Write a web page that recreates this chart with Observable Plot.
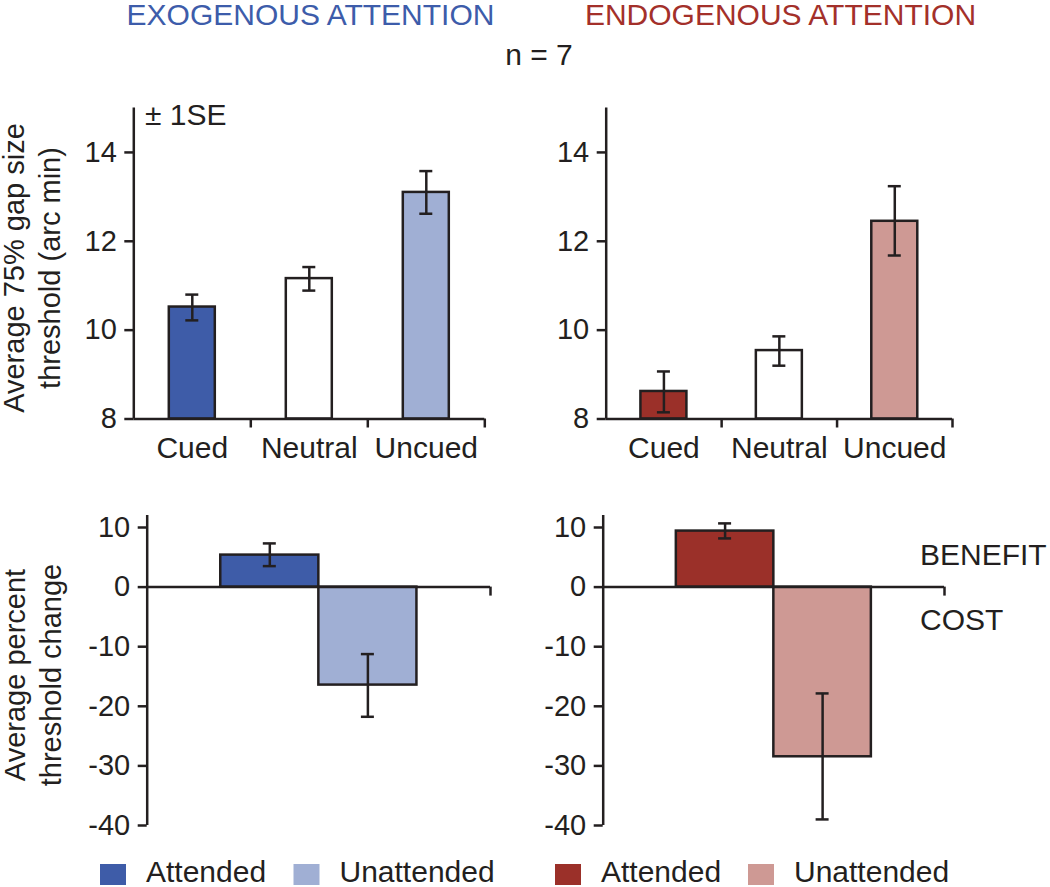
<!DOCTYPE html>
<html><head><meta charset="utf-8">
<script src="https://cdn.jsdelivr.net/npm/d3@7"></script>
<script src="https://cdn.jsdelivr.net/npm/@observablehq/plot@0.6"></script>
<style>
html,body{margin:0;padding:0;background:#fff;overflow:hidden}
#fig{position:relative;width:1050px;height:887px;font-family:"Liberation Sans",Arial,Helvetica,sans-serif;color:#231f20}
#fig svg{position:absolute;left:0;top:0}
</style></head><body><div id="fig"></div>
<script>
// ---------- data ----------
const cueConditions = ["Cued", "Neutral", "Uncued"];
const exoThreshold   = [10.52, 11.16, 13.10];
const exoThresholdLo = [10.22, 10.89, 12.62];
const exoThresholdHi = [10.80, 11.42, 13.58];
const endoThreshold   = [8.62, 9.54, 12.45];
const endoThresholdLo = [8.15, 9.20, 11.68];
const endoThresholdHi = [9.07, 9.86, 13.24];

const changeConditions = ["Attended", "Unattended"];
const exoChange   = [5.37, -16.44];
const exoChangeLo = [3.52, -21.76];
const exoChangeHi = [7.33, -11.24];
const endoChange   = [9.40, -28.47];
const endoChangeLo = [8.17, -38.98];
const endoChangeHi = [10.69, -17.84];

const thresholdDomain = [8, 15];
const thresholdTicks = [8, 10, 12, 14];
const changeDomain = [-40, 12];
const changeTicks = [10, 0, -10, -20, -30, -40];

const exoColors  = ["#3e5ca8", "#ffffff", "#a0afd4"];
const endoColors = ["#9b3029", "#ffffff", "#ce9994"];
const exoChangeColors  = ["#3e5ca8", "#a0afd4"];
const endoChangeColors = ["#9b3029", "#ce9994"];

const panelTitles = ["EXOGENOUS ATTENTION", "ENDOGENOUS ATTENTION"];
const titleColors = ["#3d5caa", "#a3302a"];
const legendLabels = ["Attended", "Unattended", "Attended", "Unattended"];
const legendColors = ["#3e5ca8", "#a0afd4", "#9b3029", "#ce9994"];

// ---------- layout ----------
const W = 1050, H = 887, INK = "#231f20", SW = 2.5;
const FONT = '"Liberation Sans", Arial, Helvetica, sans-serif';
const baseStyle = {background: "transparent", overflow: "visible", fontFamily: FONT, fontSize: "30px", color: INK};
const fig = document.getElementById("fig");

function topPanel(vals, lo, hi, fills, left, right) {
  const data = cueConditions.map((c, i) => ({c, i, v: vals[i], lo: lo[i], hi: hi[i], fill: fills[i]}));
  const n = data.length;
  const band = (right - left) / n;
  const inset = (band - 46) / 2;
  const y0 = thresholdDomain[0];
  return Plot.plot({
    width: W, height: H,
    marginLeft: left, marginRight: W - right, marginTop: 107.5, marginBottom: H - 418.5,
    x: {domain: [0, n]},
    y: {domain: thresholdDomain},
    color: {type: "identity"},
    style: baseStyle,
    marks: [
      Plot.rectY(data, {x1: d => d.i, x2: d => d.i + 1, y1: y0, y2: "v", fill: "fill", stroke: INK, strokeWidth: SW, insetLeft: inset, insetRight: inset}),
      Plot.ruleX(data, {x: d => d.i + 0.5, y1: "lo", y2: "hi", stroke: INK, strokeWidth: SW}),
      Plot.ruleY(data, {y: "lo", x1: d => d.i + 0.5, x2: d => d.i + 0.5, insetLeft: -6.5, insetRight: -6.5, stroke: INK, strokeWidth: SW}),
      Plot.ruleY(data, {y: "hi", x1: d => d.i + 0.5, x2: d => d.i + 0.5, insetLeft: -6.5, insetRight: -6.5, stroke: INK, strokeWidth: SW}),
      Plot.ruleX([0], {stroke: INK, strokeWidth: SW}),
      Plot.ruleY([y0], {stroke: INK, strokeWidth: SW}),
      Plot.ruleX(d3.range(1, n + 1), {y1: y0, y2: y0, insetBottom: -9, stroke: INK, strokeWidth: SW}),
      Plot.axisY({ticks: thresholdTicks, tickSize: 9, tickPadding: 8, strokeWidth: SW, fontSize: 29, label: null, tickFormat: d => String(d)}),
      Plot.axisX({ticks: data.map(d => d.i + 0.5), tickSize: 0, tickPadding: 18, fontSize: 30, label: null, tickFormat: d => cueConditions[Math.floor(d)]})
    ]
  });
}

function bottomPanel(vals, lo, hi, fills, left, right) {
  const data = changeConditions.map((c, i) => ({c, i, v: vals[i], lo: lo[i], hi: hi[i], fill: fills[i]}));
  const n = data.length;
  const xDomain = [-0.75, n + 0.75];
  return Plot.plot({
    width: W, height: H,
    marginLeft: left, marginRight: W - right, marginTop: 527 - 2 * 5.96, marginBottom: H - 825,
    x: {domain: xDomain, axis: null},
    y: {domain: changeDomain},
    color: {type: "identity"},
    style: baseStyle,
    marks: [
      Plot.rectY(data, {x1: d => d.i, x2: d => d.i + 1, y1: 0, y2: "v", fill: "fill", stroke: INK, strokeWidth: SW}),
      Plot.ruleX(data, {x: d => d.i + 0.5, y1: "lo", y2: "hi", stroke: INK, strokeWidth: SW}),
      Plot.ruleY(data, {y: "lo", x1: d => d.i + 0.5, x2: d => d.i + 0.5, insetLeft: -6.5, insetRight: -6.5, stroke: INK, strokeWidth: SW}),
      Plot.ruleY(data, {y: "hi", x1: d => d.i + 0.5, x2: d => d.i + 0.5, insetLeft: -6.5, insetRight: -6.5, stroke: INK, strokeWidth: SW}),
      Plot.ruleX([xDomain[0]], {stroke: INK, strokeWidth: SW}),
      Plot.ruleY([0], {stroke: INK, strokeWidth: SW}),
      Plot.ruleX([xDomain[1]], {y1: 0, y2: 0, insetBottom: -9, stroke: INK, strokeWidth: SW}),
      Plot.axisY({ticks: changeTicks, tickSize: 9, tickPadding: 8, strokeWidth: SW, fontSize: 29, label: null, tickFormat: d => String(d)})
    ]
  });
}

fig.append(topPanel(exoThreshold, exoThresholdLo, exoThresholdHi, exoColors, 133.3, 484.3));
fig.append(topPanel(endoThreshold, endoThresholdLo, endoThresholdHi, endoColors, 605.7, 952));
fig.append(bottomPanel(exoChange, exoChangeLo, exoChangeHi, exoChangeColors, 146.7, 490));
fig.append(bottomPanel(endoChange, endoChangeLo, endoChangeHi, endoChangeColors, 602.7, 944));

// ---------- annotations / legend ----------
const svg = d3.select(fig).append("svg")
  .attr("width", W).attr("height", H)
  .style("font-family", FONT).style("overflow", "visible")
  .attr("fill", INK);

const txt = (x, y, s, size, anchor = "start", fill = INK) =>
  svg.append("text").attr("x", x).attr("y", y).attr("font-size", size)
    .attr("text-anchor", anchor).attr("fill", fill).text(s);

txt(310.5, 25, panelTitles[0], 30, "middle", titleColors[0]);
txt(780.5, 25, panelTitles[1], 30, "middle", titleColors[1]);
txt(539, 65, "n = 7", 30, "middle");
txt(145, 125, "± 1SE", 30);
txt(920, 565, "BENEFIT", 30);
txt(920, 630, "COST", 30);

const vtxt = (x, y, s, size) =>
  svg.append("text").attr("transform", `translate(${x},${y}) rotate(-90)`)
    .attr("font-size", size).attr("text-anchor", "middle").text(s);
vtxt(24, 268, "Average 75% gap size", 29);
vtxt(60, 268, "threshold (arc min)", 29);
vtxt(25, 675, "Average percent", 29);
vtxt(61, 675, "threshold change", 29);

const legendSquareX = [100, 293.5, 555, 748];
legendLabels.forEach((lab, i) => {
  svg.append("rect").attr("x", legendSquareX[i]).attr("y", 864).attr("width", 26).attr("height", 21).attr("fill", legendColors[i]);
  txt(legendSquareX[i] + 46, 882, lab, 30);
});
</script>
</body></html>
